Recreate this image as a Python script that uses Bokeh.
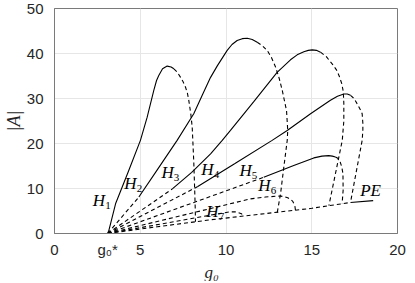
from bokeh.plotting import figure
from bokeh.models import Label, Range1d, FixedTicker, Title
from bokeh.embed import file_html
from bokeh.resources import INLINE

# ---------------- data ----------------
g0_star = 3.1

x_ticks = [0, 5, 10, 15, 20]
y_ticks = [0, 10, 20, 30, 40, 50]

# PE branch
pe_unstable_x = [3.1, 6.0, 9.0, 12.0, 15.0, 17.26]
pe_unstable_y = [0.0, 1.5, 3.0, 4.3, 5.6, 6.9]
pe_stable_x = [17.26, 18.58]
pe_stable_y = [6.9, 7.3]

# H1
h1_stable_x = [3.1, 3.17, 3.56, 4.33, 5.01, 5.4, 5.79, 5.95, 6.08, 6.3, 6.57, 6.8, 6.96]
h1_stable_y = [0.0, 0.7, 6.6, 14.0, 20.7, 25.8, 31.8, 34.0, 35.1, 36.6, 37.2, 37.0, 36.6]
h1_return_x = [6.96, 7.15, 7.35, 7.5, 7.64, 7.75, 7.83, 7.95, 8.03, 8.12, 8.18, 8.21, 8.22]
h1_return_y = [36.6, 35.9, 34.7, 33.7, 32.5, 31.2, 29.6, 26.5, 23.6, 16.0, 9.0, 5.0, 2.6]

# H2
h2_ray_x = [3.1, 4.92]
h2_ray_y = [0.0, 8.1]
h2_stable_x = [4.92, 6.0, 7.15, 8.12, 8.6, 9.1, 9.5, 10.07, 10.35, 10.65, 10.95, 11.24, 11.53, 11.82]
h2_stable_y = [8.1, 14.2, 20.7, 26.6, 30.6, 34.7, 37.3, 40.7, 42.0, 42.9, 43.3, 43.4, 43.1, 42.5]
h2_return_x = [11.82, 12.1, 12.4, 12.65, 12.89, 13.1, 13.28, 13.53, 13.6, 13.57, 13.37, 13.18, 12.99]
h2_return_y = [42.5, 41.8, 40.7, 39.1, 37.0, 34.5, 31.8, 27.3, 22.9, 20.7, 14.7, 8.8, 4.7]

# H3
h3_ray_x = [3.1, 6.87]
h3_ray_y = [0.0, 9.9]
h3_stable_x = [6.87, 8.0, 9.1, 9.78, 10.26, 11.62, 12.98, 13.76, 14.15, 14.54, 14.8, 15.03, 15.27, 15.51]
h3_stable_y = [9.9, 13.6, 17.7, 20.7, 22.9, 29.3, 35.8, 38.6, 39.7, 40.4, 40.7, 40.8, 40.7, 40.3]
h3_return_x = [15.51, 15.85, 16.19, 16.45, 16.6, 16.75, 16.84, 16.87, 16.87, 16.78, 16.0]
h3_return_y = [40.3, 39.3, 37.7, 36.3, 35.0, 33.3, 31.5, 29.0, 25.0, 20.7, 6.2]

# H4
h4_ray_x = [3.1, 8.33]
h4_ray_y = [0.0, 10.4]
h4_stable_x = [8.33, 10.5, 12.69, 13.57, 14.93, 16.09, 16.5, 16.87, 17.07, 17.26]
h4_stable_y = [10.4, 15.5, 20.7, 22.9, 26.6, 29.6, 30.5, 31.0, 31.0, 30.7]
h4_return_x = [17.26, 17.47, 17.65, 17.82, 17.94, 17.98, 17.98, 17.94, 17.26]
h4_return_y = [30.7, 30.0, 28.8, 27.6, 26.6, 24.5, 23.0, 20.7, 6.9]

# H5
h5_ray_x = [3.1, 12.2]
h5_ray_y = [0.0, 12.5]
h5_stable_x = [12.2, 13.95, 15.12, 15.6, 15.99, 16.2, 16.38]
h5_stable_y = [12.5, 15.1, 16.8, 17.2, 17.3, 17.2, 17.0]
h5_return_x = [16.38, 16.52, 16.65, 16.75, 16.82, 16.83, 16.77]
h5_return_y = [17.0, 16.7, 16.0, 14.8, 13.3, 9.6, 6.6]

# H6 (unstable only)
h6_x = [3.1, 11.43, 12.3, 12.99, 13.2, 13.4, 13.6, 13.76, 13.88, 13.95, 14.02, 14.05]
h6_y = [0.0, 7.7, 8.1, 8.3, 8.3, 8.2, 7.95, 7.6, 7.2, 6.7, 6.0, 5.2]

# H7 (unstable only)
h7_x = [3.1, 9.5, 10.2, 10.6, 10.9, 11.0]
h7_y = [0.0, 4.35, 4.8, 4.8, 4.4, 3.9]

# branch labels
branch_names = ["H", "H", "H", "H", "H", "H", "H"]
branch_subs = ["1", "2", "3", "4", "5", "6", "7"]
branch_label_x = [2.59, 4.43, 6.59, 8.92, 11.14, 12.24, 9.21]
branch_label_y = [7.3, 11.1, 13.6, 14.2, 14.0, 10.7, 4.9]
pe_label_x = 18.43
pe_label_y = 9.6

# ---------------- figure ----------------
p = figure(frame_width=343, frame_height=225, output_backend="svg", toolbar_location=None,
           x_range=Range1d(0, 20), y_range=Range1d(0, 50),
           min_border_left=54, min_border_right=10, min_border_top=8,
           min_border_bottom=38)
p.background_fill_color = "white"
p.border_fill_color = "white"
p.outline_line_color = "#7a7a7a"
p.outline_line_width = 1

# x axis: numeric ticks plus the g0* mark
p.xaxis.ticker = FixedTicker(ticks=x_ticks + [g0_star])
p.xaxis.major_label_overrides = {g0_star: "g\u2080*"}
p.yaxis.ticker = FixedTicker(ticks=y_ticks)
p.xgrid.ticker = FixedTicker(ticks=x_ticks)
for ax in (p.xaxis, p.yaxis):
    ax.axis_line_color = "#7a7a7a"
    ax.major_tick_line_color = None
    ax.minor_tick_line_color = None
    ax.major_label_text_font = "Liberation Sans"
    ax.major_label_text_font_size = "15px"
    ax.major_label_text_color = "#262626"
p.xaxis.major_label_standoff = 1
p.yaxis.major_label_standoff = 5

p.yaxis.axis_label = "|A|"
p.yaxis.axis_label_text_font = "Liberation Serif"
p.yaxis.axis_label_text_font_style = "italic"
p.yaxis.axis_label_text_font_size = "18px"
p.yaxis.axis_label_text_color = "#262626"
p.yaxis.axis_label_standoff = 0

p.xgrid.grid_line_color = "#e6e6e6"
p.ygrid.grid_line_color = "#e6e6e6"

p.add_layout(Title(text="g\u2080", align="left", offset=150, standoff=0,
                   text_font="Liberation Serif", text_font_style="italic",
                   text_font_size="17px", text_color="#262626"), "below")

LW = 1.1
DASH = "4 3"

def solid(x, y):
    p.line(x, y, line_color="black", line_width=LW)

def dashed(x, y):
    p.line(x, y, line_color="black", line_width=LW, line_dash=DASH)

dashed(pe_unstable_x, pe_unstable_y)
solid(pe_stable_x, pe_stable_y)

solid(h1_stable_x, h1_stable_y)
dashed(h1_return_x, h1_return_y)

for rx, ry, sx, sy, tx, ty in [
    (h2_ray_x, h2_ray_y, h2_stable_x, h2_stable_y, h2_return_x, h2_return_y),
    (h3_ray_x, h3_ray_y, h3_stable_x, h3_stable_y, h3_return_x, h3_return_y),
    (h4_ray_x, h4_ray_y, h4_stable_x, h4_stable_y, h4_return_x, h4_return_y),
    (h5_ray_x, h5_ray_y, h5_stable_x, h5_stable_y, h5_return_x, h5_return_y),
]:
    dashed(rx, ry)
    solid(sx, sy)
    dashed(tx, ty)

dashed(h6_x, h6_y)
dashed(h7_x, h7_y)

SERIF = "Liberation Serif"

for name, sub, lx, ly in zip(branch_names, branch_subs, branch_label_x, branch_label_y):
    p.add_layout(Label(x=lx, y=ly, text=name, text_font=SERIF, text_font_style="italic",
                       text_font_size="17px", text_align="center", text_baseline="middle",
                       text_color="black"))
    p.add_layout(Label(x=lx, y=ly, text=sub, text_font=SERIF, text_font_size="11px",
                       x_offset=9, y_offset=-5, text_align="center",
                       text_baseline="middle", text_color="black"))

p.add_layout(Label(x=pe_label_x, y=pe_label_y, text="PE", text_font=SERIF,
                   text_font_style="italic", text_font_size="17px",
                   text_align="center", text_baseline="middle", text_color="black"))

open("out.html", "w").write(file_html(p, INLINE))
